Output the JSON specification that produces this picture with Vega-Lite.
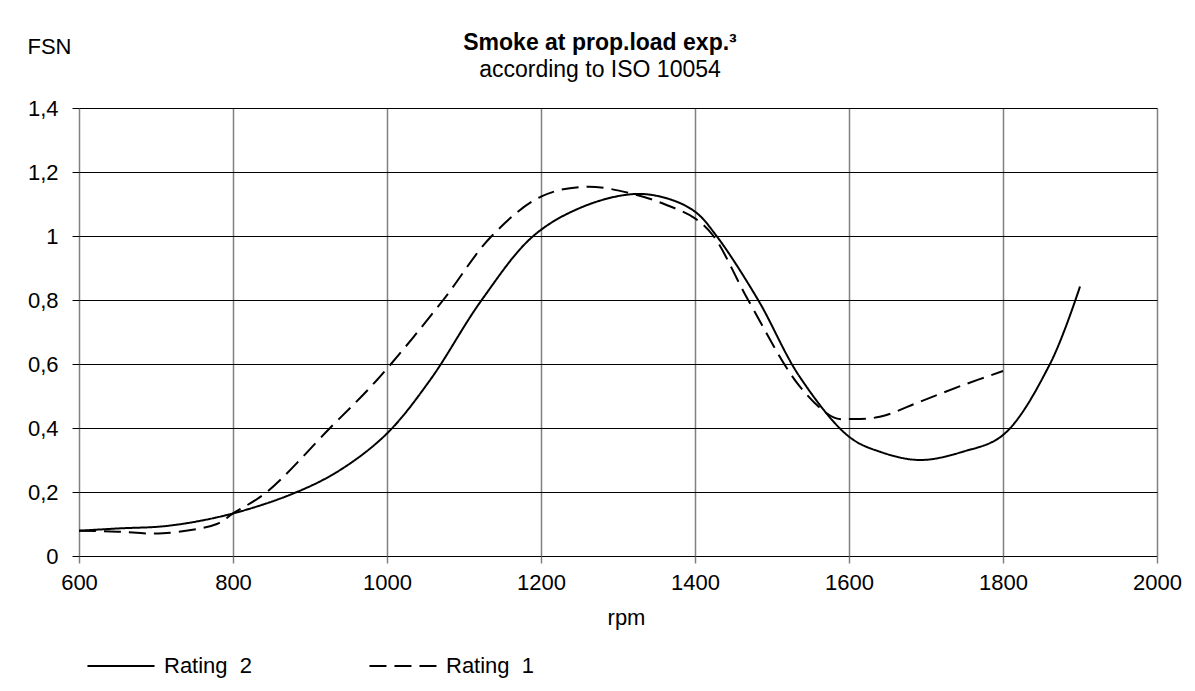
{
  "$schema": "https://vega.github.io/schema/vega-lite/v6.json",
  "autosize": "none",
  "width": 1078,
  "height": 448,
  "padding": {"left": 79, "top": 108, "right": 38, "bottom": 135},
  "background": "white",
  "config": {
    "font": "Liberation Sans",
    "view": {"stroke": null}
  },
  "title": {
    "text": "Smoke at prop.load exp.³",
    "subtitle": "according to ISO 10054",
    "anchor": "middle",
    "dx": -18,
    "font": "Liberation Sans",
    "fontSize": 23,
    "fontWeight": "bold",
    "color": "black",
    "subtitleFont": "Liberation Sans",
    "subtitleFontSize": 23,
    "subtitleColor": "black",
    "subtitlePadding": 4,
    "offset": -47
  },
  "data": {
    "values": [
      {"rpm": 600, "fsn": 0.079, "series": "Rating 2"},
      {"rpm": 650, "fsn": 0.086, "series": "Rating 2"},
      {"rpm": 718, "fsn": 0.095, "series": "Rating 2"},
      {"rpm": 800, "fsn": 0.133, "series": "Rating 2"},
      {"rpm": 883, "fsn": 0.2, "series": "Rating 2"},
      {"rpm": 940, "fsn": 0.27, "series": "Rating 2"},
      {"rpm": 1000, "fsn": 0.383, "series": "Rating 2"},
      {"rpm": 1056, "fsn": 0.55, "series": "Rating 2"},
      {"rpm": 1123, "fsn": 0.8, "series": "Rating 2"},
      {"rpm": 1190, "fsn": 1.0, "series": "Rating 2"},
      {"rpm": 1255, "fsn": 1.092, "series": "Rating 2"},
      {"rpm": 1320, "fsn": 1.131, "series": "Rating 2"},
      {"rpm": 1363, "fsn": 1.118, "series": "Rating 2"},
      {"rpm": 1400, "fsn": 1.076, "series": "Rating 2"},
      {"rpm": 1428, "fsn": 1.0, "series": "Rating 2"},
      {"rpm": 1482, "fsn": 0.8, "series": "Rating 2"},
      {"rpm": 1536, "fsn": 0.56, "series": "Rating 2"},
      {"rpm": 1600, "fsn": 0.373, "series": "Rating 2"},
      {"rpm": 1640, "fsn": 0.326, "series": "Rating 2"},
      {"rpm": 1692, "fsn": 0.3, "series": "Rating 2"},
      {"rpm": 1748, "fsn": 0.326, "series": "Rating 2"},
      {"rpm": 1800, "fsn": 0.378, "series": "Rating 2"},
      {"rpm": 1861, "fsn": 0.6, "series": "Rating 2"},
      {"rpm": 1900, "fsn": 0.842, "series": "Rating 2"},
      {"rpm": 600, "fsn": 0.079, "series": "Rating 1"},
      {"rpm": 650, "fsn": 0.076, "series": "Rating 1"},
      {"rpm": 709, "fsn": 0.071, "series": "Rating 1"},
      {"rpm": 779, "fsn": 0.1, "series": "Rating 1"},
      {"rpm": 800, "fsn": 0.133, "series": "Rating 1"},
      {"rpm": 844, "fsn": 0.2, "series": "Rating 1"},
      {"rpm": 926, "fsn": 0.4, "series": "Rating 1"},
      {"rpm": 987, "fsn": 0.55, "series": "Rating 1"},
      {"rpm": 1073, "fsn": 0.8, "series": "Rating 1"},
      {"rpm": 1136, "fsn": 1.0, "series": "Rating 1"},
      {"rpm": 1200, "fsn": 1.123, "series": "Rating 1"},
      {"rpm": 1259, "fsn": 1.154, "series": "Rating 1"},
      {"rpm": 1320, "fsn": 1.131, "series": "Rating 1"},
      {"rpm": 1363, "fsn": 1.097, "series": "Rating 1"},
      {"rpm": 1400, "fsn": 1.055, "series": "Rating 1"},
      {"rpm": 1424, "fsn": 1.0, "series": "Rating 1"},
      {"rpm": 1469, "fsn": 0.8, "series": "Rating 1"},
      {"rpm": 1536, "fsn": 0.53, "series": "Rating 1"},
      {"rpm": 1580, "fsn": 0.433, "series": "Rating 1"},
      {"rpm": 1600, "fsn": 0.428, "series": "Rating 1"},
      {"rpm": 1640, "fsn": 0.435, "series": "Rating 1"},
      {"rpm": 1692, "fsn": 0.482, "series": "Rating 1"},
      {"rpm": 1748, "fsn": 0.534, "series": "Rating 1"},
      {"rpm": 1800, "fsn": 0.578, "series": "Rating 1"}
    ]
  },
  "mark": {"type": "line", "interpolate": "catmull-rom", "strokeWidth": 2, "color": "black"},
  "encoding": {
    "x": {
      "field": "rpm",
      "type": "quantitative",
      "scale": {"domain": [600, 2000], "nice": false, "zero": false},
      "axis": {
        "values": [600, 800, 1000, 1200, 1400, 1600, 1800, 2000],
        "format": "d",
        "labelFlush": false,
        "title": "rpm",
        "titleFontSize": 22,
        "titleFontWeight": "normal",
        "titleColor": "black",
        "titlePadding": 14,
        "titleX": 547,
        "labelFontSize": 22,
        "labelColor": "black",
        "labelPadding": 9,
        "domain": false,
        "grid": true,
        "gridColor": "#808080",
        "gridOpacity": 1,
        "gridWidth": 1.5,
        "ticks": true,
        "tickColor": "#808080",
        "tickSize": 7,
        "tickWidth": 1.5
      }
    },
    "y": {
      "field": "fsn",
      "type": "quantitative",
      "scale": {"domain": [0, 1.4], "nice": false},
      "axis": {
        "values": [0, 0.2, 0.4, 0.6, 0.8, 1, 1.2, 1.4],
        "labelExpr": "replace(format(datum.value, '.1~f'), '.', ',')",
        "title": "FSN",
        "titleAngle": 0,
        "titleAlign": "left",
        "titleBaseline": "alphabetic",
        "titleX": -52,
        "titleY": -55,
        "titleFontSize": 22,
        "titleFontWeight": "normal",
        "titleColor": "black",
        "labelFontSize": 22,
        "labelColor": "black",
        "labelPadding": 14,
        "domain": false,
        "grid": true,
        "gridColor": "black",
        "gridOpacity": 1,
        "gridWidth": 1.2,
        "ticks": true,
        "tickColor": "black",
        "tickSize": 7
      }
    },
    "strokeDash": {
      "field": "series",
      "type": "nominal",
      "scale": {"domain": ["Rating 2", "Rating 1"], "range": [[1, 0], [17, 8]]},
      "legend": {
        "title": null,
        "orient": "none",
        "direction": "horizontal",
        "legendX": 7,
        "legendY": 523,
        "symbolType": "stroke",
        "symbolSize": 4500,
        "symbolStrokeWidth": 2,
        "symbolStrokeColor": "black",
        "labelFontSize": 22,
        "labelColor": "black",
        "labelOffset": 8,
        "columnPadding": 112,
        "labelExpr": "replace(datum.label, ' ', '\u00a0 ')"
      }
    }
  }
}
